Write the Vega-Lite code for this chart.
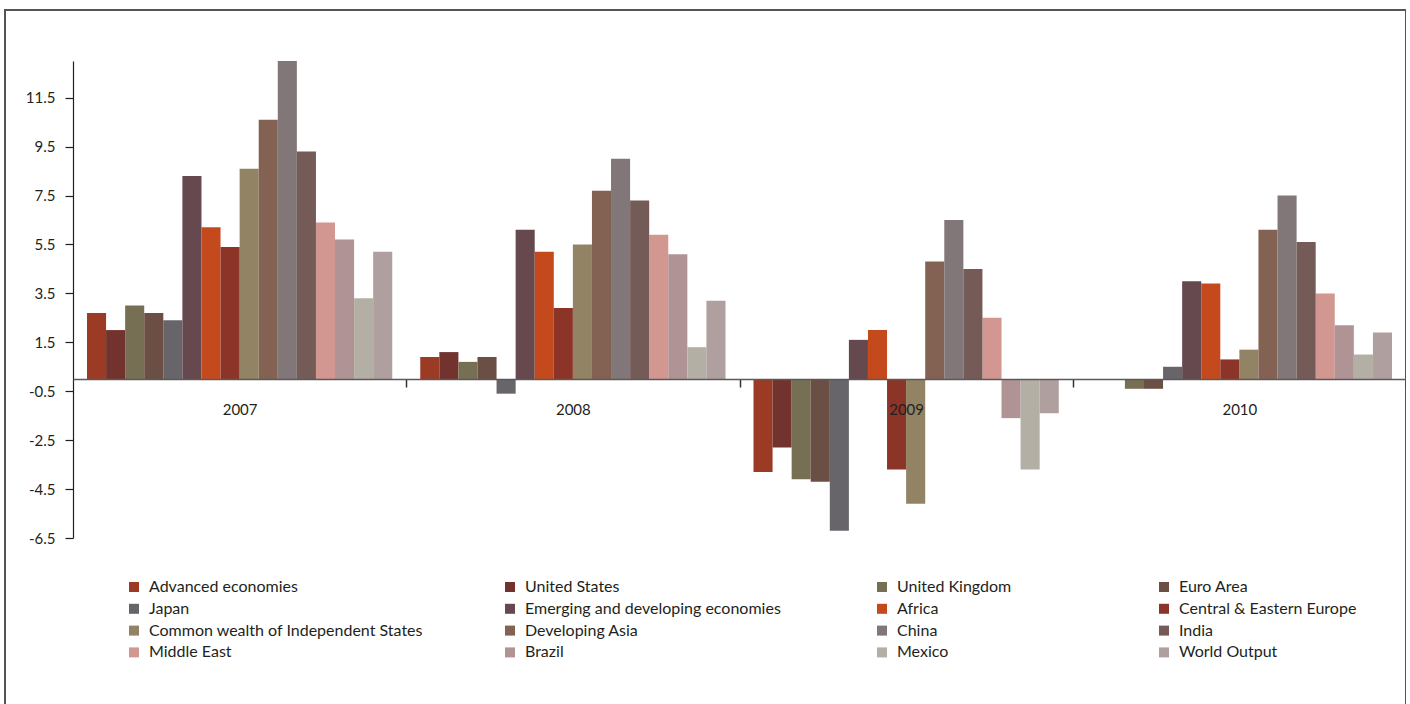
{
  "$schema": "https://vega.github.io/schema/vega-lite/v6.json",
  "width": 1401,
  "height": 700,
  "autosize": {"type": "none"},
  "padding": {"left": 5, "top": 10, "right": 0, "bottom": 0},
  "background": "white",
  "config": {
    "view": {"stroke": "#555555", "strokeWidth": 2},
    "font": "Lato",
    "legend": {"padding": 0}
  },
  "data": {
    "values": [
      {"year": "2007", "series": "Advanced economies", "value": 2.7},
      {"year": "2007", "series": "United States", "value": 2.0},
      {"year": "2007", "series": "United Kingdom", "value": 3.0},
      {"year": "2007", "series": "Euro Area", "value": 2.7},
      {"year": "2007", "series": "Japan", "value": 2.4},
      {"year": "2007", "series": "Emerging and developing economies", "value": 8.3},
      {"year": "2007", "series": "Africa", "value": 6.2},
      {"year": "2007", "series": "Central & Eastern Europe", "value": 5.4},
      {"year": "2007", "series": "Common wealth of Independent States", "value": 8.6},
      {"year": "2007", "series": "Developing Asia", "value": 10.6},
      {"year": "2007", "series": "China", "value": 13.0},
      {"year": "2007", "series": "India", "value": 9.3},
      {"year": "2007", "series": "Middle East", "value": 6.4},
      {"year": "2007", "series": "Brazil", "value": 5.7},
      {"year": "2007", "series": "Mexico", "value": 3.3},
      {"year": "2007", "series": "World Output", "value": 5.2},
      {"year": "2008", "series": "Advanced economies", "value": 0.9},
      {"year": "2008", "series": "United States", "value": 1.1},
      {"year": "2008", "series": "United Kingdom", "value": 0.7},
      {"year": "2008", "series": "Euro Area", "value": 0.9},
      {"year": "2008", "series": "Japan", "value": -0.6},
      {"year": "2008", "series": "Emerging and developing economies", "value": 6.1},
      {"year": "2008", "series": "Africa", "value": 5.2},
      {"year": "2008", "series": "Central & Eastern Europe", "value": 2.9},
      {"year": "2008", "series": "Common wealth of Independent States", "value": 5.5},
      {"year": "2008", "series": "Developing Asia", "value": 7.7},
      {"year": "2008", "series": "China", "value": 9.0},
      {"year": "2008", "series": "India", "value": 7.3},
      {"year": "2008", "series": "Middle East", "value": 5.9},
      {"year": "2008", "series": "Brazil", "value": 5.1},
      {"year": "2008", "series": "Mexico", "value": 1.3},
      {"year": "2008", "series": "World Output", "value": 3.2},
      {"year": "2009", "series": "Advanced economies", "value": -3.8},
      {"year": "2009", "series": "United States", "value": -2.8},
      {"year": "2009", "series": "United Kingdom", "value": -4.1},
      {"year": "2009", "series": "Euro Area", "value": -4.2},
      {"year": "2009", "series": "Japan", "value": -6.2},
      {"year": "2009", "series": "Emerging and developing economies", "value": 1.6},
      {"year": "2009", "series": "Africa", "value": 2.0},
      {"year": "2009", "series": "Central & Eastern Europe", "value": -3.7},
      {"year": "2009", "series": "Common wealth of Independent States", "value": -5.1},
      {"year": "2009", "series": "Developing Asia", "value": 4.8},
      {"year": "2009", "series": "China", "value": 6.5},
      {"year": "2009", "series": "India", "value": 4.5},
      {"year": "2009", "series": "Middle East", "value": 2.5},
      {"year": "2009", "series": "Brazil", "value": -1.6},
      {"year": "2009", "series": "Mexico", "value": -3.7},
      {"year": "2009", "series": "World Output", "value": -1.4},
      {"year": "2010", "series": "Advanced economies", "value": 0.0},
      {"year": "2010", "series": "United States", "value": 0.0},
      {"year": "2010", "series": "United Kingdom", "value": -0.4},
      {"year": "2010", "series": "Euro Area", "value": -0.4},
      {"year": "2010", "series": "Japan", "value": 0.5},
      {"year": "2010", "series": "Emerging and developing economies", "value": 4.0},
      {"year": "2010", "series": "Africa", "value": 3.9},
      {"year": "2010", "series": "Central & Eastern Europe", "value": 0.8},
      {"year": "2010", "series": "Common wealth of Independent States", "value": 1.2},
      {"year": "2010", "series": "Developing Asia", "value": 6.1},
      {"year": "2010", "series": "China", "value": 7.5},
      {"year": "2010", "series": "India", "value": 5.6},
      {"year": "2010", "series": "Middle East", "value": 3.5},
      {"year": "2010", "series": "Brazil", "value": 2.2},
      {"year": "2010", "series": "Mexico", "value": 1.0},
      {"year": "2010", "series": "World Output", "value": 1.9}
    ]
  },
  "encoding": {
    "x": {
      "field": "year", "type": "nominal",
      "scale": {"range": [68, 1401], "paddingInner": 0.084, "paddingOuter": 0.042},
      "axis": {
        "title": null, "orient": "bottom", "offset": -331, "zindex": 1,
        "domainColor": "#5a5a5a", "domainWidth": 1.5,
        "bandPosition": 1, "tickExtra": false, "tickOffset": 14, "labelOffset": -14,
        "tickSize": 8, "tickColor": "#333333", "tickWidth": 1.5,
        "labelAngle": 0, "labelFont": "Lato", "labelFontSize": 15, "labelColor": "#231f20", "labelPadding": 15
      }
    },
    "xOffset": {
      "field": "series", "type": "nominal",
      "scale": {
        "domain": ["Advanced economies", "United States", "United Kingdom", "Euro Area", "Japan", "Emerging and developing economies", "Africa", "Central & Eastern Europe", "Common wealth of Independent States", "Developing Asia", "China", "India", "Middle East", "Brazil", "Mexico", "World Output"],
        "paddingInner": 0, "paddingOuter": 0
      }
    },
    "y": {
      "field": "value", "type": "quantitative",
      "scale": {"domain": [-6.5, 13], "range": [528, 51], "nice": false, "zero": false},
      "axis": {
        "title": null, "orient": "left", "offset": -68, "grid": false,
        "values": [-6.5, -4.5, -2.5, -0.5, 1.5, 3.5, 5.5, 7.5, 9.5, 11.5],
        "labelExpr": "datum.value < 0 ? '-' + format(-datum.value, '.1f') : format(datum.value, '.1f')",
        "domainColor": "#231f20", "domainWidth": 1.2,
        "tickColor": "#231f20", "tickSize": 8, "tickWidth": 1.2,
        "labelFont": "Lato", "labelFontSize": 15, "labelColor": "#231f20", "labelPadding": 10
      }
    }
  },
  "layer": [
    {
      "transform": [{"filter": {"field": "series", "oneOf": ["Advanced economies", "Japan", "Common wealth of Independent States", "Middle East"]}}],
      "mark": {"type": "bar", "strokeWidth": 0},
      "encoding": {
        "color": {
          "field": "series", "type": "nominal",
          "scale": {"domain": ["Advanced economies", "Japan", "Common wealth of Independent States", "Middle East"], "range": ["#9b3b26", "#67656a", "#938365", "#d29790"]},
          "legend": {"title": null, "orient": "none", "direction": "vertical", "legendX": 121, "legendY": 569, "symbolType": "square", "symbolSize": 100, "symbolStrokeWidth": 0, "labelOffset": 7, "labelFont": "Lato", "labelFontSize": 16, "labelColor": "#231f20", "rowPadding": 5.8, "labelLimit": 400}
        }
      }
    },
    {
      "transform": [{"filter": {"field": "series", "oneOf": ["United States", "Emerging and developing economies", "Developing Asia", "Brazil"]}}],
      "mark": {"type": "bar", "strokeWidth": 0},
      "encoding": {
        "color": {
          "field": "series", "type": "nominal",
          "scale": {"domain": ["United States", "Emerging and developing economies", "Developing Asia", "Brazil"], "range": ["#72322e", "#66494e", "#836254", "#b09394"]},
          "legend": {"title": null, "orient": "none", "direction": "vertical", "legendX": 497, "legendY": 569, "symbolType": "square", "symbolSize": 100, "symbolStrokeWidth": 0, "labelOffset": 7, "labelFont": "Lato", "labelFontSize": 16, "labelColor": "#231f20", "rowPadding": 5.8, "labelLimit": 400}
        }
      }
    },
    {
      "transform": [{"filter": {"field": "series", "oneOf": ["United Kingdom", "Africa", "China", "Mexico"]}}],
      "mark": {"type": "bar", "strokeWidth": 0},
      "encoding": {
        "color": {
          "field": "series", "type": "nominal",
          "scale": {"domain": ["United Kingdom", "Africa", "China", "Mexico"], "range": ["#776f53", "#c44a1e", "#827778", "#b4afa4"]},
          "legend": {"title": null, "orient": "none", "direction": "vertical", "legendX": 869, "legendY": 569, "symbolType": "square", "symbolSize": 100, "symbolStrokeWidth": 0, "labelOffset": 7, "labelFont": "Lato", "labelFontSize": 16, "labelColor": "#231f20", "rowPadding": 5.8, "labelLimit": 400}
        }
      }
    },
    {
      "transform": [{"filter": {"field": "series", "oneOf": ["Euro Area", "Central & Eastern Europe", "India", "World Output"]}}],
      "mark": {"type": "bar", "strokeWidth": 0},
      "encoding": {
        "color": {
          "field": "series", "type": "nominal",
          "scale": {"domain": ["Euro Area", "Central & Eastern Europe", "India", "World Output"], "range": ["#6b4f45", "#8d3428", "#745b57", "#b09f9f"]},
          "legend": {"title": null, "orient": "none", "direction": "vertical", "legendX": 1151, "legendY": 569, "symbolType": "square", "symbolSize": 100, "symbolStrokeWidth": 0, "labelOffset": 7, "labelFont": "Lato", "labelFontSize": 16, "labelColor": "#231f20", "rowPadding": 5.8, "labelLimit": 400}
        }
      }
    }
  ],
  "resolve": {"scale": {"color": "independent"}, "legend": {"color": "independent"}}
}
